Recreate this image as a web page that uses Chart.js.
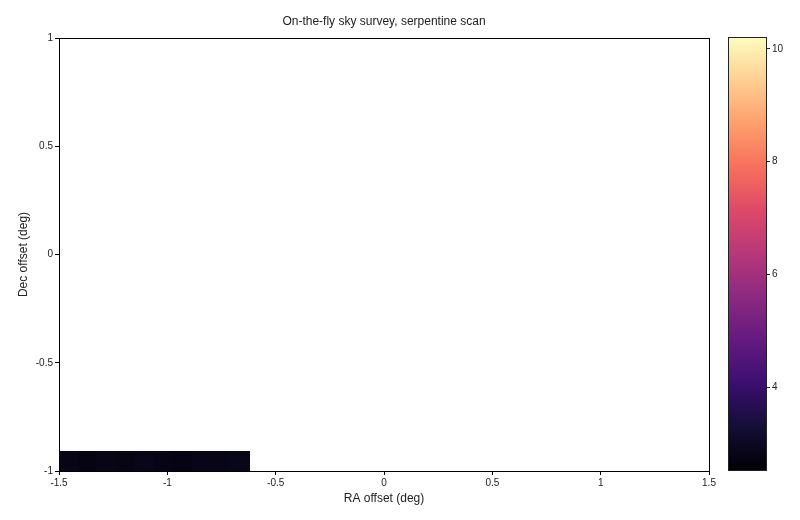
<!DOCTYPE html>
<html>
<head>
<meta charset="utf-8">
<script src="https://cdn.jsdelivr.net/npm/chart.js@4.4.1/dist/chart.umd.min.js"></script>
<style>
  html, body { margin: 0; padding: 0; background: #fff; }
  #wrap { position: relative; width: 800px; height: 520px; }
  #mapCanvas { position: absolute; left: 0; top: 0; }
  #cbCanvas { position: absolute; left: 720px; top: 0; }
</style>
</head>
<body>
<div id="wrap">
  <canvas id="mapCanvas" width="720" height="520"></canvas>
  <canvas id="cbCanvas" width="80" height="520"></canvas>
</div>
<script>
// ============================
// DATA
// ============================
const raTicks = [-1.5, -1, -0.5, 0, 0.5, 1, 1.5];
const decTicks = [-1, -0.5, 0, 0.5, 1];
const cbTicks = [4, 6, 8, 10];

// scanned cells so far (first row of the serpentine)
const raCells = [-1.456, -1.368, -1.281, -1.193, -1.105, -1.018, -0.930, -0.842, -0.754, -0.667];
const decCells = [-0.956];
const fluxRow0 = [2.80, 2.76, 2.82, 2.78, 2.84, 2.79, 2.77, 2.83, 2.81, 2.85];
const fluxRows = [fluxRow0];

const fluxMin = 2.53;
const fluxMax = 10.21;

const titleText = "On-the-fly sky survey, serpentine scan";

// ============================
// MAGMA COLOURS
// ============================
const magma = ["#000004", "#140e36", "#3b0f70", "#641a80", "#8c2981", "#b73779",
               "#de4968", "#f7705c", "#fe9f6d", "#fecf92", "#fcfdbf"];

function hexRgb(h) {
  return [parseInt(h.slice(1, 3), 16), parseInt(h.slice(3, 5), 16), parseInt(h.slice(5, 7), 16)];
}

function magmaColor(t) {
  t = Math.max(0, Math.min(1, t));
  const p = t * (magma.length - 1);
  const i = Math.min(Math.floor(p), magma.length - 2);
  const f = p - i;
  const a = hexRgb(magma[i]), b = hexRgb(magma[i + 1]);
  const c = a.map((v, k) => Math.round(v + (b[k] - v) * f));
  return `rgb(${c[0]},${c[1]},${c[2]})`;
}

const cellW = 0.0877;
const cellH = 0.088;

// ============================
// PLUGINS
// ============================
const heatmapPlugin = {
  id: "heatmap",
  beforeDatasetsDraw(chart) {
    const { ctx, scales: { x, y } } = chart;
    ctx.save();
    fluxRows.forEach((row, r) => {
      row.forEach((v, c) => {
        if (v == null) return;
        const x0 = Math.floor(x.getPixelForValue(raCells[c] - cellW / 2));
        const x1 = Math.ceil(x.getPixelForValue(raCells[c] + cellW / 2));
        const y0 = Math.floor(y.getPixelForValue(decCells[r] + cellH / 2));
        const y1 = Math.ceil(y.getPixelForValue(decCells[r] - cellH / 2));
        ctx.fillStyle = magmaColor((v - fluxMin) / (fluxMax - fluxMin));
        ctx.fillRect(x0, y0, x1 - x0 + 1, y1 - y0);
      });
    });
    ctx.restore();
  },
};

// frame round the plot + title centred over the plot area
const framePlugin = {
  id: "frame",
  afterDraw(chart) {
    const { ctx, chartArea: a } = chart;
    ctx.save();
    ctx.strokeStyle = "#000";
    ctx.lineWidth = 1;
    ctx.strokeRect(Math.round(a.left) + 0.5, Math.round(a.top) + 0.5,
                   Math.round(a.right - a.left), Math.round(a.bottom - a.top));
    ctx.fillStyle = "#222";
    ctx.font = "12px 'Liberation Sans', Arial, sans-serif";
    ctx.textAlign = "center";
    ctx.textBaseline = "middle";
    ctx.fillText(titleText, (a.left + a.right) / 2, 22);
    ctx.restore();
  },
};

const gradientPlugin = {
  id: "cbGradient",
  beforeDraw(chart) {
    const { ctx, chartArea: a } = chart;
    const g = ctx.createLinearGradient(0, a.bottom, 0, a.top);
    magma.forEach((c, i) => g.addColorStop(i / (magma.length - 1), c));
    ctx.save();
    ctx.fillStyle = g;
    ctx.fillRect(a.left, a.top, a.right - a.left, a.bottom - a.top);
    ctx.strokeStyle = "#222";
    ctx.lineWidth = 1;
    ctx.strokeRect(Math.round(a.left) + 0.5, Math.round(a.top) + 0.5,
                   Math.round(a.right - a.left), Math.round(a.bottom - a.top));
    ctx.restore();
  },
};

const tickFont = { family: "'Liberation Sans', Arial, sans-serif", size: 10 };
const labelFont = { family: "'Liberation Sans', Arial, sans-serif", size: 12 };
const plainLabel = (v) => String(Number(v));

// ============================
// MAIN MAP
// ============================
new Chart(document.getElementById("mapCanvas"), {
  type: "scatter",
  data: { datasets: [{ data: [] }] },
  options: {
    responsive: false,
    animation: false,
    layout: { padding: { left: 0, right: 11, top: 38, bottom: 0 } },
    plugins: {
      legend: { display: false },
      tooltip: { enabled: false },
      title: { display: false },
    },
    scales: {
      x: {
        type: "linear",
        min: -1.5,
        max: 1.5,
        afterBuildTicks: (s) => { s.ticks = raTicks.map((v) => ({ value: v })); },
        afterFit: (s) => { s.height = 49; },
        ticks: { color: "#222", font: tickFont, padding: 2, maxRotation: 0, autoSkip: false, callback: plainLabel },
        grid: { drawOnChartArea: false, drawTicks: true, tickLength: 4, color: "#000" },
        border: { display: true, color: "#000" },
        title: { display: true, text: "RA offset (deg)", color: "#222", font: labelFont, padding: { top: 4, bottom: 14 } },
      },
      y: {
        type: "linear",
        min: -1,
        max: 1,
        afterBuildTicks: (s) => { s.ticks = decTicks.map((v) => ({ value: v })); },
        afterFit: (s) => { s.width = 59; },
        ticks: { color: "#222", font: tickFont, padding: 2, autoSkip: false, callback: plainLabel },
        grid: { drawOnChartArea: false, drawTicks: true, tickLength: 4, color: "#000" },
        border: { display: true, color: "#000" },
        title: { display: true, text: "Dec offset (deg)", color: "#222", font: labelFont, padding: { top: 16, bottom: 4 } },
      },
    },
  },
  plugins: [heatmapPlugin, framePlugin],
});

// ============================
// COLOUR BAR
// ============================
new Chart(document.getElementById("cbCanvas"), {
  type: "scatter",
  data: { datasets: [{ data: [] }] },
  options: {
    responsive: false,
    animation: false,
    layout: { padding: { left: 8, right: 0, top: 37, bottom: 50 } },
    plugins: { legend: { display: false }, tooltip: { enabled: false } },
    scales: {
      x: { display: false, min: 0, max: 1 },
      y: {
        type: "linear",
        position: "right",
        min: fluxMin,
        max: fluxMax,
        afterBuildTicks: (s) => { s.ticks = cbTicks.map((v) => ({ value: v })); },
        afterFit: (s) => { s.width = 34; },
        ticks: { color: "#222", font: tickFont, padding: 2, callback: plainLabel },
        grid: { drawOnChartArea: false, drawTicks: true, tickLength: 4, color: "#222" },
        border: { display: false },
      },
    },
  },
  plugins: [gradientPlugin],
});
</script>
</body>
</html>
